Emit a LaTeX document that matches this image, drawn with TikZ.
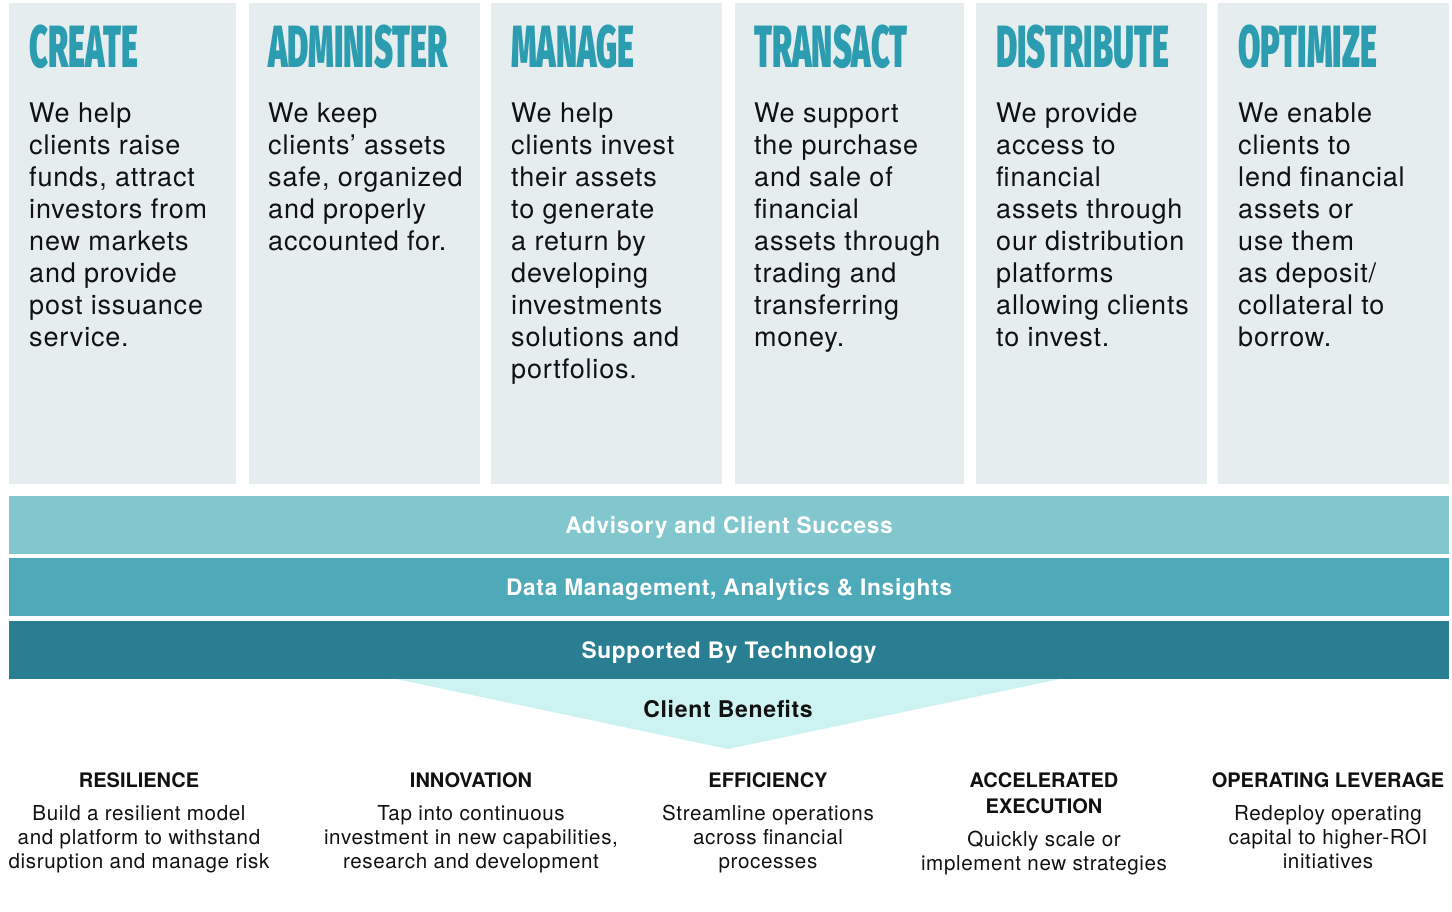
\documentclass[tikz,border=0pt]{standalone}
\usepackage{graphicx}
\usepackage{fontspec}
\setmainfont{TeX Gyre Heros}
\newfontfamily\bodyfont{TeX Gyre Heros}[LetterSpace=3]
\newfontfamily\plainfont{TeX Gyre Heros}
\IfFontExistsTF{Fira Sans Black}
  {\newfontfamily\headfont{Fira Sans Black}}
  {\newfontfamily\headfont{texgyreheros-bold.otf}}

\definecolor{colbg}{HTML}{E5EDEF}
\definecolor{headteal}{HTML}{2C9DB0}
\definecolor{bandone}{HTML}{82C7CE}
\definecolor{bandtwo}{HTML}{4EAAB9}
\definecolor{bandthree}{HTML}{2A7E92}
\definecolor{benefitbg}{HTML}{CCF3F2}
\definecolor{ink}{HTML}{111111}

% condensed column heading
\newcommand\headword[1]{\scalebox{0.545}[1]{#1}}
% fixes the height of a first line so that nodes can be placed by their top
\newcommand\firstline[1]{\rule{0pt}{#1}}

\begin{document}
\begin{tikzpicture}[x=1bp,y=-1bp,
  colbox/.style={fill=colbg, anchor=north west, minimum height=481bp, inner sep=0pt, outer sep=0pt},
  head/.style={anchor=base west, inner sep=0pt, text=headteal,
    font=\headfont\fontsize{59.5bp}{60bp}\selectfont},
  coltext/.style={anchor=north west, inner sep=0pt, align=left, text=ink,
    font=\bodyfont\fontsize{27bp}{32bp}\selectfont},
  band/.style={anchor=north west, minimum width=1440bp, minimum height=58bp, inner sep=0pt, outer sep=0pt,
    text=white, text height=17bp, text depth=0pt,
    font=\bodyfont\bfseries\fontsize{22.7bp}{26bp}\selectfont},
  benhead/.style={anchor=north, inner sep=0pt, align=center, text=ink,
    font=\plainfont\bfseries\fontsize{20bp}{26bp}\selectfont},
  bentext/.style={anchor=north, inner sep=0pt, align=center, text=ink,
    font=\bodyfont\fontsize{20.6bp}{24bp}\selectfont},
]
\useasboundingbox (0,0) rectangle (1452,911);

% ---- six activity columns
\node[colbox, minimum width=227bp] (col1) at (9,3) {};
\node[colbox, minimum width=231bp] (col2) at (249,3) {};
\node[colbox, minimum width=231bp] (col3) at (491,3) {};
\node[colbox, minimum width=229bp] (col4) at (735,3) {};
\node[colbox, minimum width=231bp] (col5) at (976,3) {};
\node[colbox, minimum width=231bp] (col6) at (1218,3) {};

\node[head] (h1) at (29,67)   {\headword{CREATE}};
\node[head] (h2) at (268,67)  {\headword{ADMINISTER}};
\node[head] (h3) at (511,67)  {\headword{MANAGE}};
\node[head] (h4) at (754,67)  {\headword{TRANSACT}};
\node[head] (h5) at (996,67)  {\headword{DISTRIBUTE}};
\node[head] (h6) at (1238,67) {\headword{OPTIMIZE}};

\node[coltext] (t1) at (29,102) {\firstline{20bp}We help\\clients raise\\funds, attract\\investors from\\new markets\\and provide\\post issuance\\service.};
\node[coltext] (t2) at (268,102) {\firstline{20bp}We keep\\clients’ assets\\safe, organized\\and properly\\accounted for.};
\node[coltext] (t3) at (511,102) {\firstline{20bp}We help\\clients invest\\their assets\\to generate\\a return by\\developing\\investments\\solutions and\\portfolios.};
\node[coltext] (t4) at (754,102) {\firstline{20bp}We support\\the purchase\\and sale of\\financial\\assets through\\trading and\\transferring\\money.};
\node[coltext] (t5) at (996,102) {\firstline{20bp}We provide\\access to\\financial\\assets through\\our distribution\\platforms\\allowing clients\\to invest.};
\node[coltext] (t6) at (1238,102) {\firstline{20bp}We enable\\clients to\\lend financial\\assets or\\use them\\as deposit/\\collateral to\\borrow.};

% ---- benefits funnel below the technology band
\coordinate (funL) at (396,679);
\coordinate (funR) at (1060,679);
\coordinate (funTip) at (728,749);
\fill[benefitbg] (funL) -- (funR) -- (funTip) -- cycle;

% ---- three supporting bands
\node[band, fill=bandone]   (adv)  at (9,496) {Advisory and Client Success};
\node[band, fill=bandtwo]   (data) at (9,558) {Data Management, Analytics \& Insights};
\node[band, fill=bandthree] (tech) at (9,621) {Supported By Technology};

\node[anchor=base, inner sep=0pt, text=ink, font=\bodyfont\bfseries\fontsize{23bp}{26bp}\selectfont]
  (cb) at (728,717) {Client Benefits};

% ---- five client benefits
\node[benhead] (b1) at (139,772)  {\firstline{15bp}RESILIENCE};
\node[benhead] (b2) at (471,772)  {\firstline{15bp}INNOVATION};
\node[benhead] (b3) at (768,772)  {\firstline{15bp}EFFICIENCY};
\node[benhead] (b4) at (1044,772) {\firstline{15bp}ACCELERATED\\EXECUTION};
\node[benhead] (b5) at (1328,772) {\firstline{15bp}OPERATING LEVERAGE};

\node[bentext] (d1) at (139,805)  {\firstline{15bp}Build a resilient model\\and platform to withstand\\disruption and manage risk};
\node[bentext] (d2) at (471,805)  {\firstline{15bp}Tap into continuous\\investment in new capabilities,\\research and development};
\node[bentext] (d3) at (768,805)  {\firstline{15bp}Streamline operations\\across financial\\processes};
\node[bentext] (d4) at (1044,831) {\firstline{15bp}Quickly scale or\\implement new strategies};
\node[bentext] (d5) at (1328,805) {\firstline{15bp}Redeploy operating\\capital to higher-ROI\\initiatives};
\end{tikzpicture}
\end{document}
